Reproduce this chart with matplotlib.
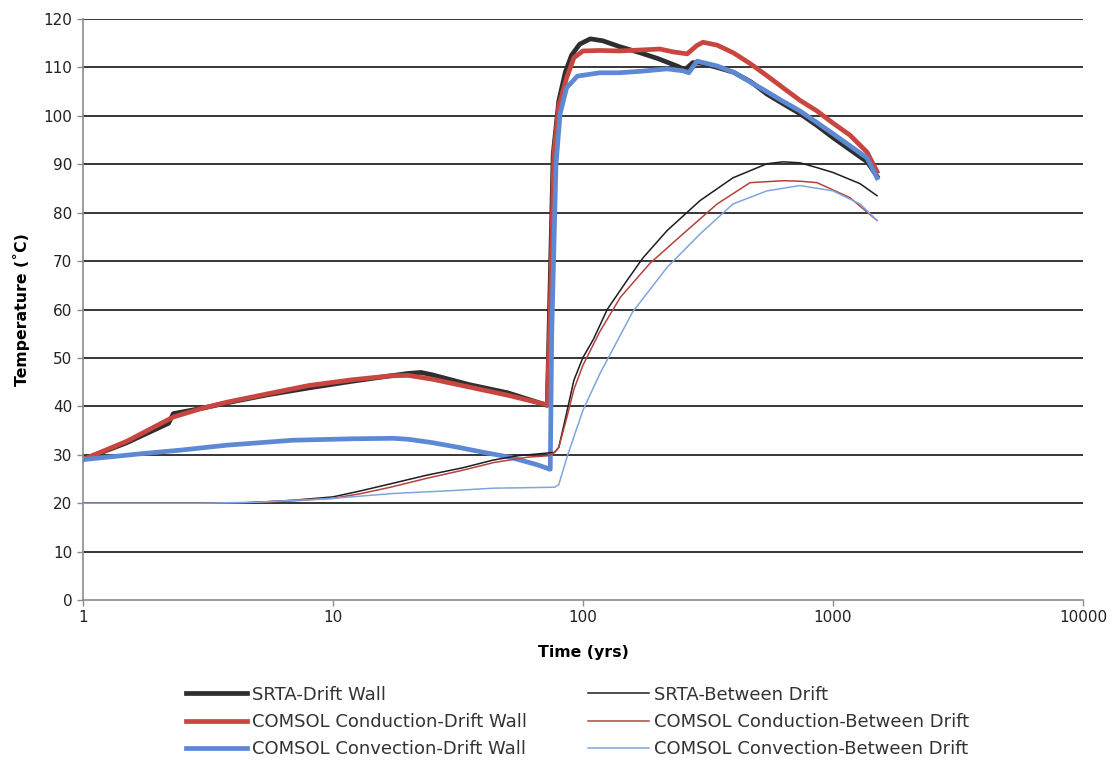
import matplotlib
matplotlib.use("Agg")
import matplotlib.pyplot as plt
from matplotlib.ticker import FixedLocator, FixedFormatter, NullLocator

# drift wall series (time in years, temperature in C)
srta_wall_t = [1, 1.5, 2.2, 2.3, 3, 4, 5.5, 8, 12, 17, 20, 22.5, 25, 35, 50, 72,
               73.5, 76, 80, 85, 90, 97, 107, 120, 140, 170, 200, 240, 256, 275,
               300, 344, 400, 470, 544, 631, 740, 863, 1000, 1170, 1370, 1500]
srta_wall_T = [29, 32.5, 36.5, 38.5, 39.6, 41, 42.4, 43.8, 45.2, 46.3, 46.8, 47, 46.5,
               44.5, 42.8, 40.2, 60, 92, 103, 109, 112.5, 114.8, 115.9, 115.5, 114.3,
               113, 111.8, 110.2, 109.5, 111, 110.8, 110, 109, 107, 104.5, 102.5,
               100.4, 98, 95.5, 93, 90.5, 87.5]

cond_wall_t = [1, 1.5, 2.3, 3, 3.8, 5.5, 8, 12, 17, 20, 25, 35, 50, 72, 74, 76.5, 80,
               86, 92, 100, 117, 140, 170, 203, 230, 261, 285, 302, 344, 400, 466,
               544, 631, 738, 863, 1000, 1170, 1368, 1500]
cond_wall_T = [29, 32.8, 37.8, 39.6, 40.9, 42.6, 44.3, 45.5, 46.3, 46.4, 45.6, 44,
               42.3, 40.3, 60, 92, 102, 107.8, 112, 113.4, 113.5, 113.4, 113.6, 113.8,
               113.2, 112.8, 114.5, 115.2, 114.6, 113, 110.8, 108.3, 105.8, 103.2,
               101, 98.5, 96, 92.5, 88.5]

conv_wall_t = [1, 1.7, 2.5, 3.8, 6.9, 12, 17.4, 20, 25, 32, 40, 51, 65, 74, 75, 78,
               81, 86, 95, 117, 140, 170, 217, 251, 265, 286, 344, 400, 466, 544,
               631, 738, 863, 1000, 1170, 1368, 1500]
conv_wall_T = [29, 30.2, 31, 32, 33, 33.3, 33.4, 33.2, 32.5, 31.5, 30.5, 29.5, 28,
               27, 55, 90, 100.4, 105.8, 108.2, 108.9, 108.9, 109.2, 109.7, 109.3,
               108.9, 111.3, 110.3, 109, 107, 105, 103, 101, 98.6, 96.3, 93.8, 91.3,
               87.2]

# between drift series
srta_btw_t = [1, 2, 3, 4.6, 6.9, 10, 12.8, 17, 23.8, 33, 43.7, 55, 70, 77, 80, 86,
              92, 100, 110, 125, 150, 174, 217, 294, 398, 544, 631, 738, 863, 1000,
              1282, 1500]
srta_btw_T = [20, 20, 20, 20.1, 20.6, 21.3, 22.5, 24, 25.8, 27.3, 28.9, 29.8, 30.3,
              30.5, 31.5, 38.6, 45.4, 50.1, 53.8, 60, 66, 70.7, 76.3, 82.5, 87.2,
              90.1, 90.5, 90.3, 89.3, 88.3, 86, 83.5]

cond_btw_t = [1, 4, 7, 10, 13, 17, 24, 33, 44, 60, 73, 77, 80, 86, 92, 100, 117,
              141, 185, 251, 344, 466, 631, 738, 863, 1169, 1500]
cond_btw_T = [20, 20, 20.5, 21, 22, 23.3, 25.2, 26.8, 28.4, 29.5, 29.8, 30.5, 31.5,
              37.5, 43.5, 48.5, 55.5, 62.5, 69.5, 75.6, 81.8, 86.2, 86.6, 86.5, 86.2,
              83.1, 78.4]

conv_btw_t = [1, 3, 5, 10, 17.4, 30, 43.7, 60, 77, 80, 86.3, 100, 117, 158, 217,
              294, 398, 544, 738, 1000, 1282, 1500]
conv_btw_T = [20, 20, 20.2, 21, 22, 22.6, 23.1, 23.2, 23.3, 23.8, 29.5, 39.2, 46.8,
              59.5, 68.7, 75.6, 81.8, 84.5, 85.6, 84.5, 81.8, 78.4]

x_ticks = [1, 10, 100, 1000, 10000]
x_tick_labels = ["1", "10", "100", "1000", "10000"]
y_ticks = list(range(0, 121, 10))

plt.rcParams["font.family"] = ["DejaVu Sans"]

fig = plt.figure(figsize=(11.2, 7.63), dpi=100)
ax = fig.add_axes([0.074, 0.2136, 0.893, 0.7615])

ax.plot(srta_wall_t, srta_wall_T, color="#2e2e2e", lw=3.4, label="SRTA-Drift Wall", zorder=4)
ax.plot(cond_wall_t, cond_wall_T, color="#c8463f", lw=3.4, label="COMSOL Conduction-Drift Wall", zorder=5)
ax.plot(conv_wall_t, conv_wall_T, color="#5d89d4", lw=3.4, label="COMSOL Convection-Drift Wall", zorder=6)
ax.plot(srta_btw_t, srta_btw_T, color="#1e1e1e", lw=1.1, label="SRTA-Between Drift", zorder=7)
ax.plot(cond_btw_t, cond_btw_T, color="#b5423e", lw=1.1, label="COMSOL Conduction-Between Drift", zorder=7)
ax.plot(conv_btw_t, conv_btw_T, color="#7fa6dc", lw=1.1, label="COMSOL Convection-Between Drift", zorder=7)

ax.set_xscale("log")
ax.set_xlim(1, 10000)
ax.set_ylim(0, 120)
ax.xaxis.set_major_locator(FixedLocator(x_ticks))
ax.xaxis.set_major_formatter(FixedFormatter(x_tick_labels))
ax.xaxis.set_minor_locator(NullLocator())
ax.set_yticks(y_ticks)

for y in y_ticks[1:]:
    ax.axhline(y, color="#262626", lw=1.3, zorder=1)

for side in ["top", "right"]:
    ax.spines[side].set_visible(False)
ax.spines["left"].set_color("#8c8c8c")
ax.spines["bottom"].set_color("#8c8c8c")
ax.spines["left"].set_linewidth(1.2)
ax.spines["bottom"].set_linewidth(1.2)
ax.tick_params(axis="both", colors="#8c8c8c", labelcolor="#222222", labelsize=11,
               length=4, width=1)

ax.set_xlabel("Time (yrs)", fontsize=11.3, fontweight="bold", labelpad=14)
ax.set_ylabel("Temperature (˚C)", fontsize=11.3, fontweight="bold", labelpad=10)

fig.legend(loc="upper left", bbox_to_anchor=(0.158, 0.113), ncol=2, frameon=False,
           borderpad=0, fontsize=13, handlelength=3.4, handletextpad=0.28,
           columnspacing=3.35, labelspacing=0.5, labelcolor="#333333")

fig.savefig("out.png", dpi=100)
